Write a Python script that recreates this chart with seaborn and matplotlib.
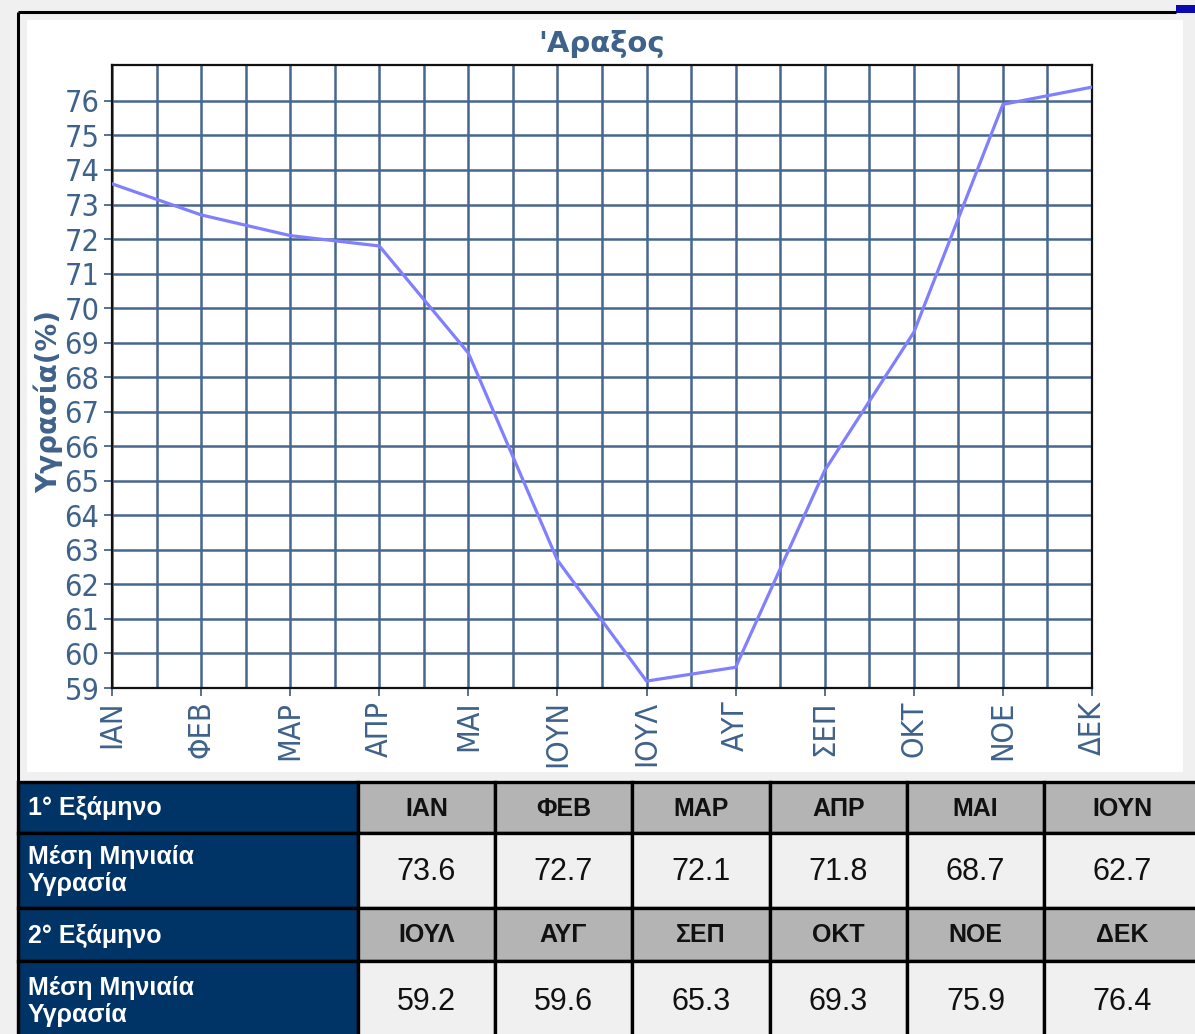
import numpy as np
import pandas as pd
import matplotlib
matplotlib.use("Agg")
import matplotlib.pyplot as plt
from matplotlib import font_manager
from matplotlib.patches import Rectangle
from matplotlib.ticker import MultipleLocator
import seaborn as sns

# ---- data -------------------------------------------------------------
months = ["ΙΑΝ", "ΦΕΒ", "ΜΑΡ", "ΑΠΡ", "ΜΑΙ", "ΙΟΥΝ",
          "ΙΟΥΛ", "ΑΥΓ", "ΣΕΠ", "ΟΚΤ", "ΝΟΕ", "ΔΕΚ"]
humidity = [73.6, 72.7, 72.1, 71.8, 68.7, 62.7,
            59.2, 59.6, 65.3, 69.3, 75.9, 76.4]
yticks = list(range(59, 77))
station = "'Αραξος"
ylabel = "Υγρασία(%)"
half_labels = ["1° Εξάμηνο", "2° Εξάμηνο"]
row_label = "Μέση Μηνιαία\nΥγρασία"

# ---- style ------------------------------------------------------------
sns.set_style("white")
plt.rcParams["font.family"] = ["DejaVu Sans"]

names = {f.name for f in font_manager.fontManager.ttflist}
if "Liberation Sans Narrow" in names:
    tick_font = dict(family=["Liberation Sans Narrow", "DejaVu Sans"], stretch="normal")
else:
    tick_font = dict(family=["DejaVu Sans"], stretch="condensed")
table_family = ["Liberation Sans", "DejaVu Sans"]

ink = "#3f628a"
grid_c = "#46678f"
line_c = "#8080ff"
navy = "#003366"
head_gray = "#b4b4b4"
cell_gray = "#f0f0f0"

W, H = 1195, 1034
fig = plt.figure(figsize=(W / 100, H / 100), dpi=100)
fig.patch.set_facecolor("#f0f0f0")

# background canvas in pixel coordinates
bg = fig.add_axes([0, 0, 1, 1])
bg.set_xlim(0, W)
bg.set_ylim(H, 0)
bg.axis("off")

# white chart panel and frame
bg.add_patch(Rectangle((27, 20), 1156, 752, facecolor="white", edgecolor="none"))
bg.plot([18, 18], [12, H], color="black", lw=2.2, solid_capstyle="butt")
bg.plot([18, 1176], [12, 12], color="black", lw=2.2, solid_capstyle="butt")
bg.add_patch(Rectangle((1176, 5), 19, 8, facecolor="#0a0ab0", edgecolor="none"))

# ---- summary table ----------------------------------------------------
col_edges = [18, 358, 495, 632, 770, 907, 1044, 1200]
row_edges = [782, 833, 908, 961, 1042]
for half in range(2):
    r_head = 2 * half
    r_val = 2 * half + 1
    for r in (r_head, r_val):
        y0, y1 = row_edges[r], row_edges[r + 1]
        for c in range(7):
            x0, x1 = col_edges[c], col_edges[c + 1]
            if c == 0:
                fc = navy
            elif r == r_head:
                fc = head_gray
            else:
                fc = cell_gray
            bg.add_patch(Rectangle((x0, y0), x1 - x0, y1 - y0,
                                   facecolor=fc, edgecolor="black", lw=2.4))
    # row labels
    yh = (row_edges[r_head] + row_edges[r_head + 1]) / 2
    yv = (row_edges[r_val] + row_edges[r_val + 1]) / 2
    bg.text(28, yh + 1, half_labels[half], color="white", fontsize=18,
            fontweight="bold", family=table_family, ha="left", va="center")
    bg.text(28, yv, row_label, color="white", fontsize=18, fontweight="bold",
            family=table_family, ha="left", va="center", linespacing=1.15)
    for j in range(6):
        k = 6 * half + j
        xc = (col_edges[j + 1] + col_edges[j + 2]) / 2
        bg.text(xc, yh + 1, months[k], color="#111111", fontsize=18,
                fontweight="bold", family=table_family, ha="center", va="center")
        bg.text(xc, yv + 1, f"{humidity[k]:.1f}", color="#111111", fontsize=22,
                family=table_family, ha="center", va="center")

# ---- line chart -------------------------------------------------------
ax = fig.add_axes([112 / W, 1 - 688 / H, 980 / W, 623 / H])
ax.set_facecolor("white")
df = pd.DataFrame({"pos": np.arange(len(months)), "hum": humidity})
sns.lineplot(data=df, x="pos", y="hum", ax=ax, color=line_c, lw=2.3, zorder=5)

ax.set_xlim(0, len(months) - 1)
ax.set_ylim(59, 77.04)
ax.set_xticks(range(len(months)))
ax.xaxis.set_minor_locator(MultipleLocator(0.5))
ax.set_yticks(yticks)
ax.set_xticklabels(months, rotation=90, color=ink, fontsize=22, **tick_font)
ax.set_yticklabels([str(v) for v in yticks], color=ink, fontsize=22, **tick_font)
ax.tick_params(axis="both", which="major", direction="out", length=6,
               width=1.3, color=grid_c, pad=3, left=True, bottom=True)
ax.tick_params(axis="x", which="minor", length=0)
ax.grid(True, which="both", axis="x", color=grid_c, lw=1.8)
ax.grid(True, which="major", axis="y", color=grid_c, lw=1.8)
ax.set_axisbelow(True)
for s in ax.spines.values():
    s.set_visible(True)
    s.set_color("#111111")
    s.set_linewidth(1.6)

ax.set_xlabel("")
ax.set_ylabel(ylabel, color=ink, fontsize=20, fontweight="bold")
ax.yaxis.set_label_coords(-0.050, 0.46)
ax.set_title(station, color=ink, fontsize=21, fontweight="bold", pad=9)

fig.savefig("out.png", dpi=100, facecolor=fig.get_facecolor())
